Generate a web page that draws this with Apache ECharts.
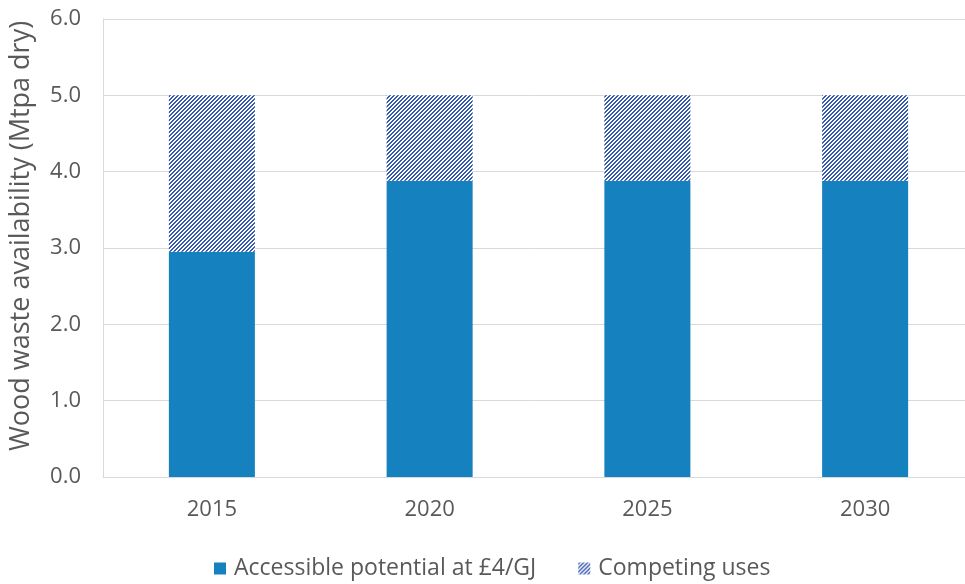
<!DOCTYPE html>
<html>
<head>
<meta charset="utf-8">
<script src="https://cdn.jsdelivr.net/npm/echarts@6/dist/echarts.min.js"></script>
<style>
  html, body { margin: 0; padding: 0; background: #fff; }
  #chart { width: 965px; height: 584px; }
</style>
</head>
<body>
<div id="chart"></div>
<script>
const years = ['2015', '2020', '2025', '2030'];
const accessible = [2.95, 3.88, 3.88, 3.88];
const competing = [2.05, 1.12, 1.12, 1.12];
const yTicks = [0, 1, 2, 3, 4, 5, 6];

// Pixel-aligned diagonal hatch tile for the "competing uses" stack
function hatchPattern() {
  const s = 4;
  const c = document.createElement('canvas');
  c.width = s; c.height = s;
  const g = c.getContext('2d');
  const img = g.createImageData(s, s);
  for (let y = 0; y < s; y++) {
    for (let x = 0; x < s; x++) {
      const i = (y * s + x) * 4;
      const on = ((x + y) % 4) < 2;
      img.data[i] = on ? 0x36 : 255;
      img.data[i + 1] = on ? 0x59 : 255;
      img.data[i + 2] = on ? 0xb0 : 255;
      img.data[i + 3] = 255;
    }
  }
  g.putImageData(img, 0, 0);
  return c;
}

const textColor = '#595959';
const font = 'Open Sans';

const chart = echarts.init(document.getElementById('chart'));
chart.setOption({
  animation: false,
  textStyle: { fontFamily: font },
  grid: {
    left: 103, width: 871, top: 19, bottom: 107,
    containLabel: false, outerBoundsMode: 'none'
  },
  legend: {
    bottom: -1,
    left: 209,
    itemWidth: 12,
    itemHeight: 12,
    itemGap: 42,
    icon: 'rect',
    textStyle: { color: textColor, fontSize: 23, fontFamily: font, padding: [0, 0, 0, 3] },
    data: ['Accessible potential at £4/GJ', 'Competing uses']
  },
  xAxis: {
    type: 'category',
    data: years,
    axisLine: { lineStyle: { color: '#d9d9d9', width: 1 } },
    axisTick: { show: false },
    axisLabel: { color: textColor, fontSize: 22, margin: 22 }
  },
  yAxis: {
    type: 'value',
    min: yTicks[0],
    max: yTicks[yTicks.length - 1],
    interval: 1,
    name: 'Wood waste availability (Mtpa dry)',
    nameLocation: 'middle',
    nameGap: 68,
    nameTextStyle: { color: textColor, fontSize: 27, padding: [0, 0, 0, 24] },
    axisLine: { show: true, lineStyle: { color: '#d9d9d9', width: 1 } },
    axisTick: { show: false },
    splitLine: { lineStyle: { color: '#d9d9d9', width: 1 } },
    axisLabel: {
      color: textColor,
      fontSize: 22,
      margin: 22,
      formatter: v => v.toFixed(1)
    }
  },
  series: [
    {
      name: 'Accessible potential at £4/GJ',
      type: 'bar',
      stack: 'total',
      barWidth: '39.5%',
      data: accessible,
      itemStyle: { color: '#1581bf' }
    },
    {
      name: 'Competing uses',
      type: 'bar',
      stack: 'total',
      data: competing,
      itemStyle: { color: { image: hatchPattern(), repeat: 'repeat' } }
    }
  ]
});
</script>
</body>
</html>
